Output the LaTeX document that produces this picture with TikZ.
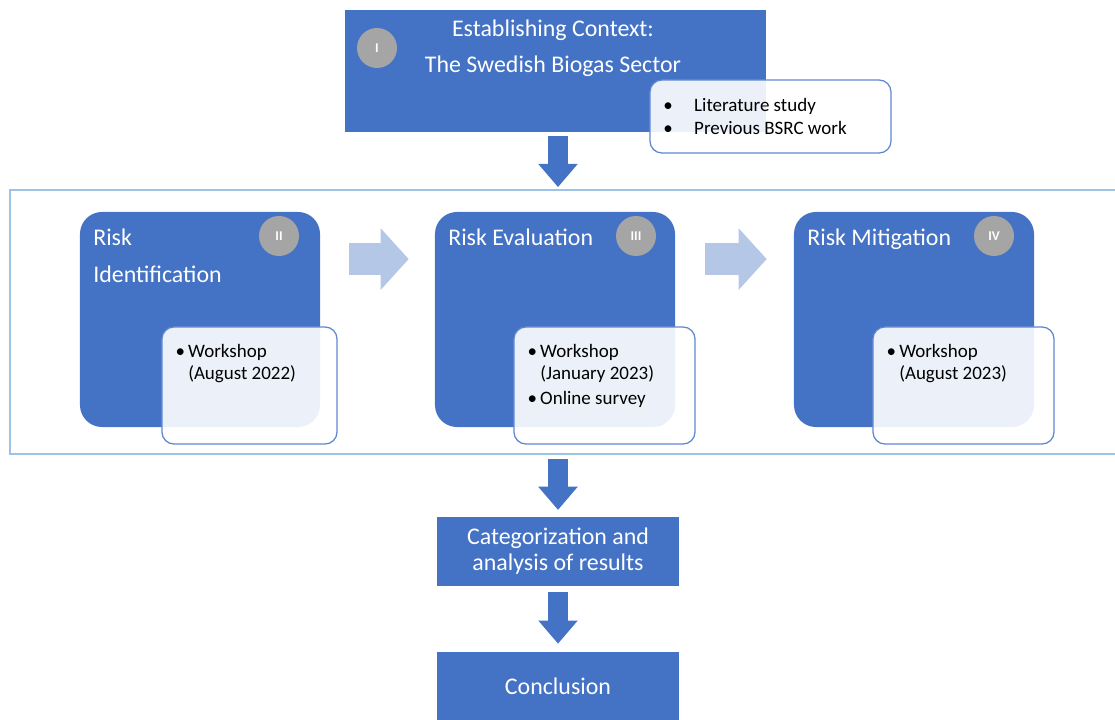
\documentclass[tikz,border=0pt]{standalone}
\usepackage{fontspec}
\setmainfont{Carlito}
\usetikzlibrary{arrows.meta,positioning}
\definecolor{mainblue}{HTML}{4472C4}
\definecolor{badgegray}{HTML}{A5A5A5}
\definecolor{chevblue}{HTML}{B4C7E7}
\definecolor{framecol}{HTML}{9DC3E6}
\definecolor{noteline}{HTML}{5F87D0}
\begin{document}
\begin{tikzpicture}[x=0.025cm, y=-0.025cm, stepbox/.style = {rectangle, fill=mainblue, inner sep=0pt}, stagebox/.style = {stepbox, rounded corners=0.55cm, minimum width=6cm, minimum height=5.375cm}, notebox/.style = {rectangle, draw=noteline, line width=0.9pt, fill=white, fill opacity=0.9, rounded corners=0.3cm}, notetext/.style = {align=left, inner sep=0pt, text=black, font={\fontsize{13.5}{15.5}\selectfont}}, titletext/.style = {align=left, inner sep=0pt, text=white, font={\fontsize{17}{26}\selectfont}}, boxtext/.style = {align=center, inner sep=0pt, text=white, font={\fontsize{17}{18.5}\selectfont}}, badge/.style = {circle, fill=badgegray, text=white, minimum size=1cm, inner sep=0pt, font={\fontsize{9.5}{9.5}\selectfont\bfseries}}, bigarrow/.style = {draw=mainblue, line width=0.5cm, -{Triangle[width=0.95cm, length=0.58cm]}}, chevron/.style = {draw=chevblue, line width=0.8cm, -{Triangle[width=1.5cm, length=0.7cm]}}]
			\useasboundingbox (0,0) rectangle (1115,720);
			% outer frame
			\node[draw=framecol, line width=1.2pt, minimum width=27.875cm, minimum height=6.6cm, inner sep=0pt] (frame) at (567.5,322) {};
			% context
			\node[stepbox, minimum width=10.525cm, minimum height=3.05cm] (context) at (555.5,71) {};
			\node[boxtext, font={\fontsize{17}{25.6}\selectfont}] (contexttitle) at (553,48) {Establishing Context:\\The Swedish Biogas Sector};
			\node[badge] (badgeI) at (377,48) {I};
			\node[notebox, minimum width=6.025cm, minimum height=1.825cm] (contextnote) at (770.5,116.5) {};
			\node[notetext, font={\fontsize{13.5}{16.4}\selectfont}, anchor=west] (contextlist) at (663,116.5) {\makebox[22pt][l]{\textbullet}Literature study\\\makebox[22pt][l]{\textbullet}Previous BSRC work};
			% stages
			\node[stagebox] (ident) at (200,319.5) {};
			\node[stagebox] (eval) at (555,319.5) {};
			\node[stagebox] (mitig) at (914,319.5) {};
			\node[titletext, anchor=north west] (identtitle) at (93,229) {Risk\\Identification};
			\node[titletext, anchor=north west] (evaltitle) at (448,229) {Risk Evaluation};
			\node[titletext, anchor=north west] (mitigtitle) at (807,229) {Risk Mitigation};
			\node[badge] (badgeII) at (279,236) {II};
			\node[badge] (badgeIII) at (636,236) {III};
			\node[badge] (badgeIV) at (994,236) {IV};
			\node[notebox, minimum width=4.375cm, minimum height=2.925cm] (identnote) at (249.5,385.5) {};
			\node[notebox, minimum width=4.525cm, minimum height=2.925cm] (evalnote) at (604.5,385.5) {};
			\node[notebox, minimum width=4.525cm, minimum height=2.925cm] (mitignote) at (963.5,385.5) {};
			\node[notetext, anchor=north west] (identlist) at ([xshift=0.35cm,yshift=-0.45cm]identnote.north west) {\textbullet\,Workshop\\\phantom{\textbullet\,}(August 2022)};
			\node[notetext, anchor=north west] (evallist) at ([xshift=0.35cm,yshift=-0.45cm]evalnote.north west) {\textbullet\,Workshop\\\phantom{\textbullet\,}(January 2023)\\[2pt]\textbullet\,Online survey};
			\node[notetext, anchor=north west] (mitiglist) at ([xshift=0.35cm,yshift=-0.45cm]mitignote.north west) {\textbullet\,Workshop\\\phantom{\textbullet\,}(August 2023)};
			% results
			\node[stepbox, minimum width=6.05cm, minimum height=1.725cm, boxtext] (cat) at (558,551.5) {Categorization and\\analysis of results};
			\node[stepbox, minimum width=6.05cm, minimum height=1.725cm, boxtext] (concl) at (558,686.5) {Conclusion};
			
			\draw[bigarrow, shorten <=0.1cm, shorten >=0.05cm] (context.south -| cat) -- (frame.north -| cat);
			\draw[bigarrow, shorten <=0.1cm, shorten >=0.17cm] (frame.south -| cat) -- (cat);
			\draw[bigarrow, shorten <=0.15cm, shorten >=0.2cm] (cat) -- (concl);
			\draw[chevron, shorten <=0.725cm, shorten >=0.65cm] ([yshift=1.51cm]ident.east) -- ([yshift=1.51cm]eval.west);
			\draw[chevron, shorten <=0.75cm, shorten >=0.675cm] ([yshift=1.51cm]eval.east) -- ([yshift=1.51cm]mitig.west);
\end{tikzpicture}
\end{document}
